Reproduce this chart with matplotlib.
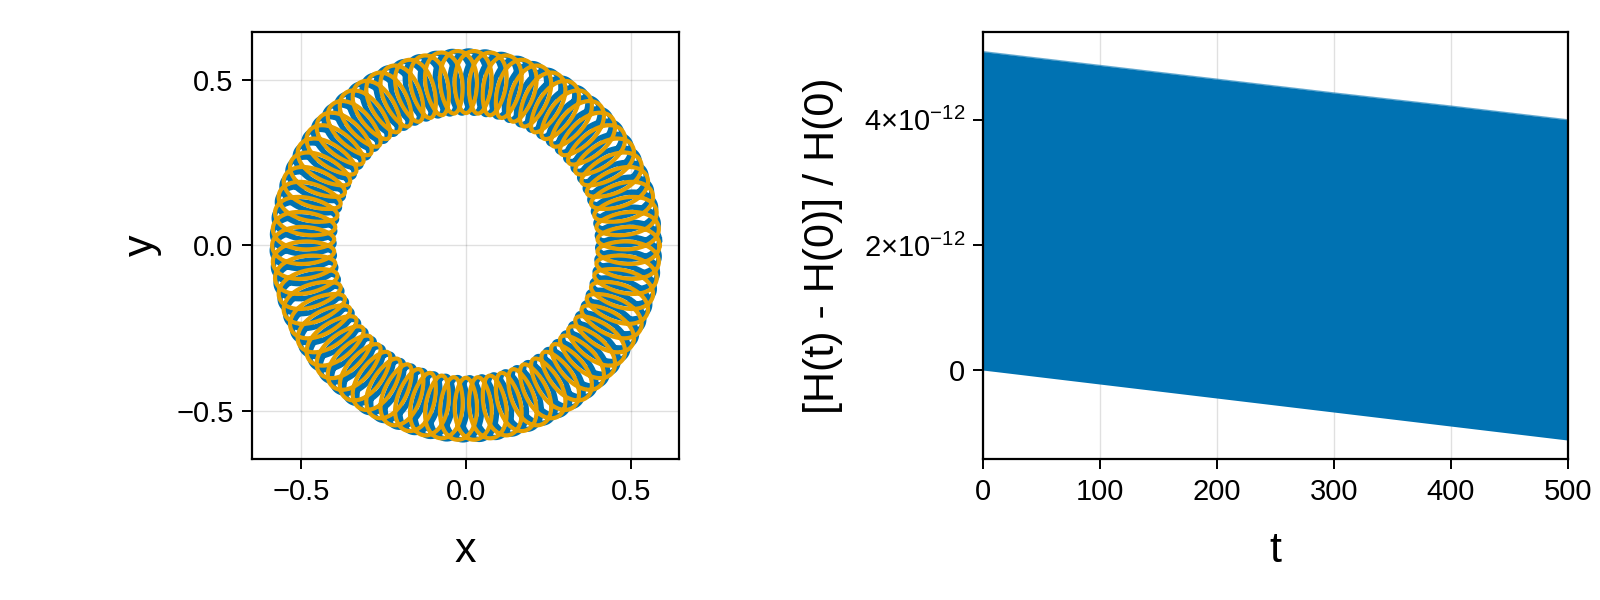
import numpy as np
import matplotlib
matplotlib.use('Agg')
import matplotlib.pyplot as plt
from matplotlib.ticker import FixedLocator, FixedFormatter

plt.rcParams['font.family'] = ['Liberation Sans', 'DejaVu Sans']
plt.rcParams['mathtext.fontset'] = 'custom'
plt.rcParams['mathtext.rm'] = 'Liberation Sans'
plt.rcParams['mathtext.it'] = 'Liberation Sans:italic'

# orbit: ring between inner and outer radius, ~70 loops
orbit_r_inner = 0.40
orbit_r_outer = 0.588
orbit_loops = 70
orbit_loop_halfwidth = 0.045
orbit_shift = 0.32  # blue orbit runs a bit ahead of the orange one

# energy error envelope
t_env = [0, 100, 200, 300, 400, 500]
h_upper = [5.09e-12, 4.87e-12, 4.65e-12, 4.43e-12, 4.22e-12, 4.00e-12]
h_lower = [0.0, -0.224e-12, -0.448e-12, -0.672e-12, -0.896e-12, -1.12e-12]

x_ticks = [-0.5, 0.0, 0.5]
y_ticks = [-0.5, 0.0, 0.5]
t_ticks = [0, 100, 200, 300, 400, 500]
h_ticks = [0.0, 2e-12, 4e-12]
h_ticklabels = ['0', r'$2{\times}10^{-12}$', r'$4{\times}10^{-12}$']

blue = '#0072b2'
orange = '#e69f00'


def rosette(shift):
    R = 0.5 * (orbit_r_inner + orbit_r_outer)
    A = 0.5 * (orbit_r_outer - orbit_r_inner)
    phi = np.linspace(0, 2 * np.pi * orbit_loops, 40000)
    r = R + A * np.cos(phi)
    th = (phi + 2 * np.pi * shift) / orbit_loops + orbit_loop_halfwidth / R * np.sin(phi)
    return r * np.cos(th), r * np.sin(th)


fig = plt.figure(figsize=(16, 6), dpi=100)
ax1 = fig.add_axes([0.1573, 0.2342, 0.2673, 0.713])
ax2 = fig.add_axes([0.6144, 0.2342, 0.3656, 0.713])

xb, yb = rosette(orbit_shift)
xo, yo = rosette(0.0)
ax1.plot(xb, yb, color=blue, lw=3.8, zorder=2)
ax1.plot(xo, yo, color=orange, lw=3.0, zorder=3)
ax1.set_xlim(-0.650, 0.648)
ax1.set_ylim(-0.647, 0.646)
ax1.set_xticks(x_ticks)
ax1.set_yticks(y_ticks)
ax1.set_xticklabels(['\u22120.5', '0.0', '0.5'])
ax1.set_yticklabels(['\u22120.5', '0.0', '0.5'])
ax1.set_xlabel('x', fontsize=31, labelpad=18)
ax1.set_ylabel('y', fontsize=31, labelpad=10)

ax2.fill_between(t_env, h_lower, h_upper, color=blue, lw=0, zorder=2)
ax2.plot(t_env, h_upper, color=blue, lw=1.0, alpha=0.6, zorder=2)
ax2.set_xlim(0, 500)
ax2.set_ylim(-1.43e-12, 5.41e-12)
ax2.xaxis.set_major_locator(FixedLocator(t_ticks))
ax2.yaxis.set_major_locator(FixedLocator(h_ticks))
ax2.yaxis.set_major_formatter(FixedFormatter(h_ticklabels))
ax2.set_xlabel('t', fontsize=31, labelpad=18)
ax2.set_ylabel('[H(t) - H(0)] / H(0)', fontsize=31, labelpad=15)

for ax in (ax1, ax2):
    ax.grid(True, color='black', alpha=0.12, lw=1.0, zorder=0)
    ax.set_axisbelow(True)
    for s in ax.spines.values():
        s.set_linewidth(1.6)
    ax.tick_params(direction='out', length=7, width=1.4, labelsize=21, pad=6)

fig.savefig('out.png', dpi=100)
